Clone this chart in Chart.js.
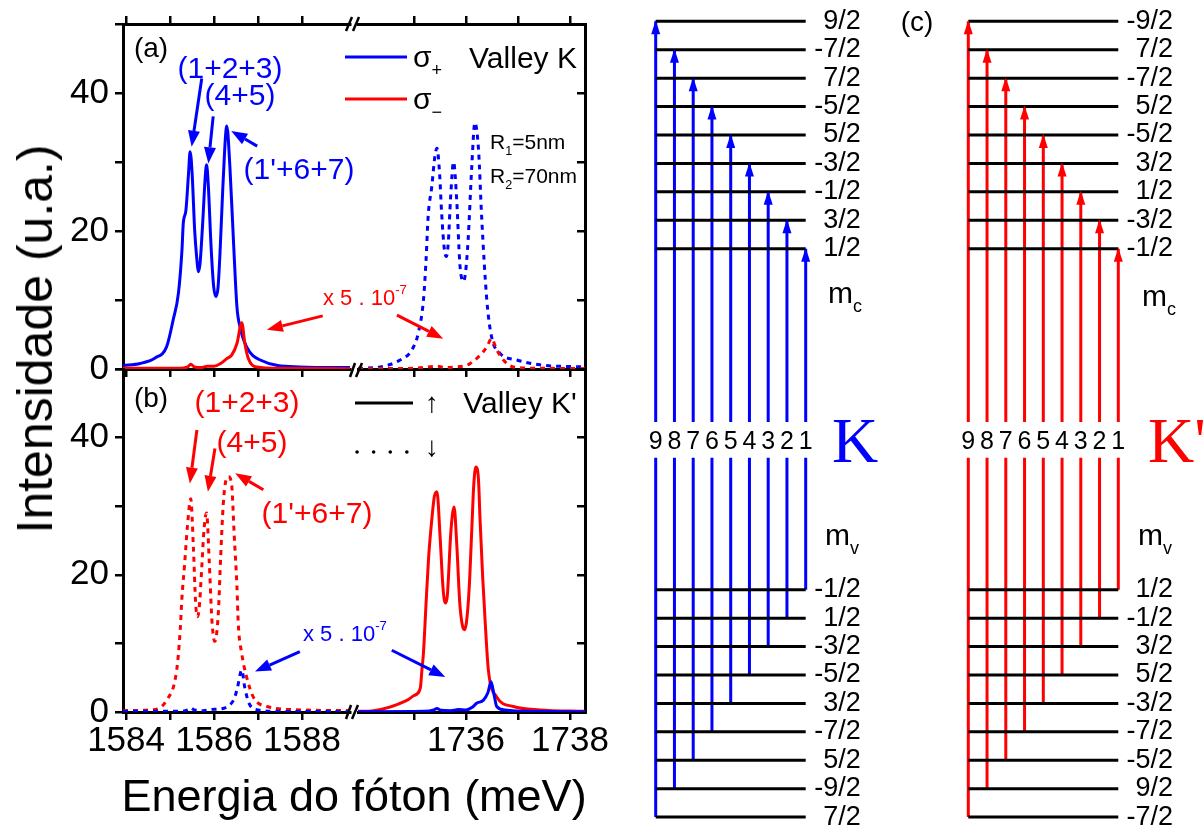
<!DOCTYPE html>
<html>
<head>
<meta charset="utf-8">
<title>Espectros e transições</title>
<script src="https://cdn.jsdelivr.net/npm/chart.js@4.4.1/dist/chart.umd.min.js"></script>
<style>
  html, body { margin: 0; padding: 0; background: #fff; width: 1203px; height: 830px; overflow: hidden; }
  .layer { position: absolute; left: 0; top: 0; width: 1203px; height: 830px; }
  .layer canvas { display: block; }
  .tall { top: -60px; height: 950px; }
  .t { position: absolute; line-height: 1; white-space: nowrap; transform: translate(-50%, -50%);
       font-family: 'Liberation Sans', Arial, Helvetica, sans-serif; color: #000; }
  .l { transform: translate(0, -50%); }
  .sub { font-size: .6em; position: relative; top: .5em; }
  .sup { font-size: .6em; position: relative; top: -.85em; }
  .blue { color: #0000ff; }
  .red { color: #ff0000; }
  .serif { font-family: 'Liberation Serif', 'Times New Roman', serif; }
</style>
</head>
<body>
<div class="layer"><canvas id="aLow" width="1203" height="830"></canvas></div>
<div class="layer"><canvas id="aHigh" width="1203" height="830"></canvas></div>
<div class="layer"><canvas id="bLow" width="1203" height="830"></canvas></div>
<div class="layer"><canvas id="bHigh" width="1203" height="830"></canvas></div>
<div class="layer tall"><canvas id="diagK" width="1203" height="950"></canvas></div>
<div class="layer tall"><canvas id="diagKp" width="1203" height="950"></canvas></div>

<!-- panel (a) -->
<div class="t" style="left:151px;top:48px;font-size:28px">(a)</div>
<div class="t blue" style="left:230px;top:68px;font-size:30px">(1+2+3)</div>
<div class="t blue" style="left:240px;top:95px;font-size:30px">(4+5)</div>
<div class="t blue" style="left:299px;top:169px;font-size:30px">(1'+6+7)</div>
<div class="t l" style="left:413px;top:57px;font-size:30px">σ<span class="sub">+</span></div>
<div class="t l" style="left:413px;top:99px;font-size:30px">σ<span class="sub">−</span></div>
<div class="t" style="left:523px;top:58px;font-size:30px">Valley K</div>
<div class="t l" style="left:490px;top:141px;font-size:21px">R<span class="sub">1</span>=5nm</div>
<div class="t l" style="left:490px;top:175px;font-size:21px">R<span class="sub">2</span>=70nm</div>
<div class="t l red" style="left:323px;top:298px;font-size:22px">x 5 . 10<span class="sup">-7</span></div>

<!-- panel (b) -->
<div class="t" style="left:151px;top:398px;font-size:28px">(b)</div>
<div class="t red" style="left:247px;top:402px;font-size:30px">(1+2+3)</div>
<div class="t red" style="left:252px;top:442px;font-size:30px">(4+5)</div>
<div class="t red" style="left:317px;top:513px;font-size:30px">(1'+6+7)</div>
<div class="t" style="left:432px;top:403px;font-size:28px">↑</div>
<div class="t" style="left:432px;top:447px;font-size:28px">↓</div>
<div class="t" style="left:520px;top:403px;font-size:30px">Valley K'</div>
<div class="t l blue" style="left:303px;top:634px;font-size:22px">x 5 . 10<span class="sup">-7</span></div>

<!-- axis titles -->
<div class="t" style="left:35px;top:339px;font-size:50px;transform:translate(-50%,-50%) rotate(-90deg)">Intensidade (u.a.)</div>
<div class="t" style="left:354px;top:795px;font-size:45px">Energia do fóton (meV)</div>

<!-- panel (c) -->
<div class="t" style="left:917px;top:22px;font-size:28px">(c)</div>
<div class="t blue serif" style="left:855px;top:441px;font-size:64px">K</div>
<div class="t l red serif" style="left:1148px;top:441px;font-size:64px">K'</div>
<div class="t l" style="left:828px;top:293px;font-size:30px">m<span class="sub">c</span></div>
<div class="t l" style="left:825px;top:535px;font-size:30px">m<span class="sub">v</span></div>
<div class="t l" style="left:1142px;top:296px;font-size:30px">m<span class="sub">c</span></div>
<div class="t l" style="left:1138px;top:535px;font-size:30px">m<span class="sub">v</span></div>

<script>
// === Spectra + level scheme (valleys K and K') ===
const FONT = "'Liberation Sans', Arial, Helvetica, sans-serif";
const BLUE = "#0000ff", RED = "#ff0000", BLACK = "#000000";

// --- axis ticks ---
const yTicks = [0, 10, 20, 30, 40, 50];
const yLabelled = [0, 20, 40];
const lowTicks = [1584, 1585, 1586, 1587, 1588];
const highTicks = [1735, 1736, 1737, 1738];
const xLabelled = [1584, 1586, 1588, 1736, 1738];

// --- (a) valley K, spin up, ~1585 meV (solid) ---
const kUpPlusE = [1583.93, 1584.32, 1584.66, 1584.92, 1585.07, 1585.19, 1585.27, 1585.30, 1585.36, 1585.42, 1585.455, 1585.50, 1585.56, 1585.61, 1585.64, 1585.68, 1585.74, 1585.80, 1585.83, 1585.87, 1585.93, 1585.99, 1586.04, 1586.09, 1586.14, 1586.20, 1586.29, 1586.36, 1586.44, 1586.52, 1586.59, 1586.74, 1587.05, 1587.95, 1589.09];
const kUpPlusI = [0.5, 0.8, 1.6, 3.2, 7.1, 11.0, 17.2, 21.1, 23.0, 28.4, 31.5, 28.5, 20.0, 15.8, 14.1, 15.2, 21.0, 27.9, 29.6, 26.5, 18.0, 12.0, 10.5, 11.8, 17.5, 26.4, 35.2, 29.3, 18.7, 9.0, 6.1, 3.2, 1.3, 0.3, 0.2];
const kUpMinusE = [1583.93, 1585.20, 1585.40, 1585.47, 1585.55, 1585.70, 1585.85, 1586.00, 1586.15, 1586.29, 1586.40, 1586.52, 1586.63, 1586.70, 1586.78, 1586.97, 1587.50, 1589.09];
const kUpMinusI = [0.1, 0.1, 0.3, 0.7, 0.3, 0.2, 0.4, 0.4, 0.8, 1.5, 2.0, 3.7, 6.7, 3.7, 1.5, 0.3, 0.1, 0.05];

// --- (a) valley K, spin down, ~1736 meV (dotted) ---
const kDownPlusE = [1733.92, 1734.35, 1734.73, 1734.96, 1735.08, 1735.18, 1735.23, 1735.27, 1735.34, 1735.40, 1735.44, 1735.49, 1735.53, 1735.58, 1735.62, 1735.66, 1735.70, 1735.76, 1735.82, 1735.88, 1735.92, 1735.95, 1735.99, 1736.04, 1736.11, 1736.17, 1736.24, 1736.30, 1736.40, 1736.49, 1736.65, 1736.98, 1737.42, 1738.29];
const kDownPlusI = [0.1, 0.3, 1.3, 2.8, 5.2, 10.0, 15.8, 22.1, 26.4, 30.8, 32.0, 28.4, 22.6, 17.5, 16.3, 18.5, 24.5, 30.0, 24.5, 15.3, 13.0, 12.7, 14.0, 18.7, 29.3, 35.7, 31.8, 22.1, 10.0, 4.7, 2.3, 1.3, 0.6, 0.3];
const kDownMinusE = [1733.92, 1735.00, 1735.45, 1735.60, 1735.80, 1736.00, 1736.08, 1736.27, 1736.40, 1736.49, 1736.59, 1736.72, 1736.91, 1737.50, 1738.29];
const kDownMinusI = [0.05, 0.1, 0.4, 0.2, 0.3, 0.5, 0.8, 2.0, 3.2, 4.4, 2.8, 1.3, 0.3, 0.1, 0.05];

// --- (b) valley K', spin down, ~1585 meV (dotted) ---
const kpDownMinusE = [1583.93, 1584.55, 1584.92, 1585.15, 1585.23, 1585.27, 1585.33, 1585.40, 1585.47, 1585.53, 1585.58, 1585.62, 1585.66, 1585.72, 1585.77, 1585.83, 1585.89, 1585.95, 1585.99, 1586.02, 1586.06, 1586.10, 1586.15, 1586.21, 1586.27, 1586.33, 1586.40, 1586.46, 1586.52, 1586.55, 1586.63, 1586.74, 1586.89, 1587.20, 1588.00, 1589.09];
const kpDownMinusI = [0.2, 0.3, 1.7, 6.1, 11.9, 16.7, 21.5, 27.5, 31.1, 24.0, 16.0, 13.9, 15.0, 21.0, 26.5, 29.0, 22.0, 13.5, 10.8, 10.3, 11.5, 14.8, 22.6, 30.4, 33.8, 34.3, 33.1, 25.5, 18.3, 12.9, 8.5, 5.1, 2.2, 0.8, 0.3, 0.2];
const kpDownPlusE = [1583.93, 1585.20, 1585.40, 1585.47, 1585.55, 1585.75, 1586.00, 1586.20, 1586.30, 1586.44, 1586.52, 1586.63, 1586.70, 1586.80, 1587.00, 1587.50, 1589.09];
const kpDownPlusI = [0.1, 0.1, 0.3, 0.6, 0.3, 0.2, 0.4, 0.5, 0.8, 1.7, 3.2, 6.1, 3.5, 1.2, 0.3, 0.1, 0.05];

// --- (b) valley K', spin up, ~1736 meV (solid) ---
const kpUpMinusE = [1733.92, 1734.22, 1734.86, 1735.00, 1735.12, 1735.15, 1735.18, 1735.23, 1735.28, 1735.34, 1735.39, 1735.44, 1735.50, 1735.55, 1735.58, 1735.61, 1735.64, 1735.71, 1735.77, 1735.82, 1735.88, 1735.93, 1735.97, 1736.01, 1736.06, 1736.11, 1736.15, 1736.19, 1736.24, 1736.27, 1736.32, 1736.37, 1736.43, 1736.59, 1736.91, 1737.42, 1738.29];
const kpUpMinusI = [0.1, 0.2, 1.7, 2.4, 3.5, 6.1, 8.6, 15.8, 22.6, 28.0, 31.4, 32.1, 25.6, 18.8, 16.4, 15.9, 17.0, 26.5, 29.9, 24.6, 15.8, 12.6, 12.0, 13.2, 18.0, 26.5, 33.3, 35.7, 33.8, 28.0, 19.7, 12.9, 6.1, 2.2, 0.8, 0.3, 0.1];
const kpUpPlusE = [1733.92, 1735.20, 1735.38, 1735.44, 1735.52, 1735.70, 1735.85, 1736.00, 1736.12, 1736.21, 1736.33, 1736.42, 1736.48, 1736.54, 1736.59, 1736.75, 1737.20, 1738.29];
const kpUpPlusI = [0.05, 0.1, 0.3, 0.5, 0.25, 0.2, 0.35, 0.3, 0.7, 1.3, 1.7, 2.8, 4.4, 2.5, 0.8, 0.3, 0.1, 0.05];

// --- level scheme: transition n goes from valence level n to conduction level n ---
const transitions = [1, 2, 3, 4, 5, 6, 7, 8, 9];
const condLabelsK  = ["1/2", "3/2", "-1/2", "-3/2", "5/2", "-5/2", "7/2", "-7/2", "9/2"];
const valLabelsK   = ["-1/2", "1/2", "-3/2", "-5/2", "3/2", "-7/2", "5/2", "-9/2", "7/2"];
const condLabelsKp = ["-1/2", "-3/2", "1/2", "3/2", "-5/2", "5/2", "-7/2", "7/2", "-9/2"];
const valLabelsKp  = ["1/2", "-1/2", "3/2", "5/2", "-3/2", "-7/2", "-5/2", "9/2", "-7/2"];

// === helpers ===
const pts = (E, I) => E.map((e, i) => ({ x: e, y: I[i] }));
function curve(E, I, color, dotted) {
  return {
    data: pts(E, I), borderColor: color, borderWidth: 3,
    borderDash: dotted ? [5, 5] : [], pointRadius: 0,
    cubicInterpolationMode: "monotone", fill: false
  };
}

function drawArrow(ctx, x1, y1, x2, y2, color) {
  const ang = Math.atan2(y2 - y1, x2 - x1), len = 16, half = 6;
  const bx = x2 - len * Math.cos(ang), by = y2 - len * Math.sin(ang);
  ctx.strokeStyle = color; ctx.fillStyle = color; ctx.lineWidth = 3; ctx.setLineDash([]);
  ctx.beginPath(); ctx.moveTo(x1, y1); ctx.lineTo(bx, by); ctx.stroke();
  ctx.beginPath(); ctx.moveTo(x2, y2);
  ctx.lineTo(bx + half * Math.sin(ang), by - half * Math.cos(ang));
  ctx.lineTo(bx - half * Math.sin(ang), by + half * Math.cos(ang));
  ctx.closePath(); ctx.fill();
}

// annotation arrows (data coords), legend samples and axis-break marks
const decor = {
  id: "decor",
  afterDraw(chart, args, opts) {
    const ctx = chart.ctx, xs = chart.scales.x, ys = chart.scales.y;
    ctx.save();
    (opts.strokes || []).forEach(s => {
      ctx.strokeStyle = s.color || BLACK; ctx.lineWidth = s.width || 2.5;
      ctx.setLineDash(s.dash || []); ctx.lineCap = s.cap || "butt";
      ctx.beginPath(); ctx.moveTo(s.p[0], s.p[1]); ctx.lineTo(s.p[2], s.p[3]); ctx.stroke();
    });
    (opts.arrows || []).forEach(a => drawArrow(ctx,
      xs.getPixelForValue(a.from[0]), ys.getPixelForValue(a.from[1]),
      xs.getPixelForValue(a.to[0]), ys.getPixelForValue(a.to[1]), a.color));
    ctx.restore();
  }
};

// === spectrum panels (broken energy axis -> two charts per panel) ===
const SEGMENTS = {
  low:  { left: 123, right: 350, min: 1583.93, max: 1589.09, ticks: lowTicks },
  high: { left: 358, right: 585, min: 1733.92, max: 1738.29, ticks: highTicks }
};
const PANELS = { a: { top: 24, bottom: 369 }, b: { top: 369, bottom: 712 } };
const Y_W = 80, YR_W = 40, TOP_H = 10, BOT_A = 30, BOT_B = 80;

function spectrum(id, segName, panelName, datasets, decorOpts) {
  const seg = SEGMENTS[segName], pan = PANELS[panelName];
  const low = segName === "low", showX = panelName === "b";
  const tickFont = { family: FONT, size: 35, lineHeight: 1 };
  const xAxis = (pos, labels) => ({
    type: "linear", position: pos, min: seg.min, max: seg.max,
    afterBuildTicks: s => { s.ticks = seg.ticks.map(v => ({ value: v })); },
    afterFit: s => { s.height = pos === "top" ? TOP_H : (showX ? BOT_B : BOT_A); },
    ticks: {
      display: labels, autoSkip: false, maxRotation: 0, padding: 4, color: BLACK, font: tickFont,
      callback: v => (xLabelled.includes(v) ? String(v) : "")
    },
    grid: { drawOnChartArea: false, drawTicks: true, tickLength: 8, color: BLACK, lineWidth: 2.5 },
    border: { display: true, color: BLACK, width: 3 }
  });
  const scales = {
    x: xAxis("bottom", showX),
    y: {
      type: "linear", position: low ? "left" : "right", min: 0, max: 50,
      afterBuildTicks: s => { s.ticks = yTicks.map(v => ({ value: v })); },
      afterFit: s => { s.width = low ? Y_W : YR_W; },
      ticks: {
        display: low, padding: 6, color: BLACK, font: tickFont,
        callback: v => (yLabelled.includes(v) ? String(v) : "")
      },
      grid: { drawOnChartArea: false, drawTicks: true, tickLength: low ? 8 : -8, color: BLACK, lineWidth: 2.5 },
      border: { display: true, color: BLACK, width: 3 }
    }
  };
  if (panelName === "a") scales.xTop = xAxis("top", false);

  return new Chart(document.getElementById(id), {
    type: "line",
    data: { datasets },
    options: {
      responsive: false, animation: false, events: [],
      layout: {
        padding: {
          left: low ? seg.left - Y_W : seg.left,
          right: low ? 1203 - seg.right : 1203 - seg.right - YR_W,
          top: panelName === "a" ? pan.top - TOP_H : pan.top,
          bottom: 830 - pan.bottom - (showX ? BOT_B : BOT_A)
        }
      },
      scales,
      plugins: { legend: { display: false }, tooltip: { enabled: false }, decor: decorOpts }
    },
    plugins: [decor]
  });
}

spectrum("aLow", "low", "a",
  [curve(kUpMinusE, kUpMinusI, RED, false), curve(kUpPlusE, kUpPlusI, BLUE, false)],
  { arrows: [
      { from: [1585.72, 42.1], to: [1585.49, 32.2], color: BLUE },
      { from: [1585.98, 36.6], to: [1585.87, 29.8], color: BLUE },
      { from: [1586.98, 32.3], to: [1586.39, 34.5], color: BLUE },
      { from: [1588.47, 7.7], to: [1587.20, 5.7], color: RED }
  ] });

spectrum("aHigh", "high", "a",
  [curve(kDownMinusE, kDownMinusI, RED, true), curve(kDownPlusE, kDownPlusI, BLUE, true)],
  { arrows: [{ from: [1734.67, 7.8], to: [1735.56, 4.4], color: RED }],
    strokes: [
      { p: [345, 57, 407, 57], color: BLUE, width: 3 },
      { p: [345, 99, 407, 99], color: RED, width: 3 },
      { p: [346, 31, 352, 17] }, { p: [353, 31, 359, 17] },
      { p: [350, 377, 355, 363] }, { p: [356, 377, 362, 363] }
  ] });

spectrum("bLow", "low", "b",
  [curve(kpDownPlusE, kpDownPlusI, BLUE, true), curve(kpDownMinusE, kpDownMinusI, RED, true)],
  { arrows: [
      { from: [1585.61, 41.1], to: [1585.45, 33.3], color: RED },
      { from: [1586.02, 38.4], to: [1585.86, 32.1], color: RED },
      { from: [1587.12, 32.4], to: [1586.48, 34.8], color: RED },
      { from: [1587.95, 8.8], to: [1586.93, 5.9], color: BLUE }
  ] });

spectrum("bHigh", "high", "b",
  [curve(kpUpPlusE, kpUpPlusI, BLUE, false), curve(kpUpMinusE, kpUpMinusI, RED, false)],
  { arrows: [{ from: [1734.57, 9.0], to: [1735.60, 5.1], color: BLUE }],
    strokes: [
      { p: [355, 403, 413, 403], width: 3 },
      { p: [357, 452, 410, 452], width: 3.5, dash: [0.1, 16.5], cap: "round" },
      { p: [346, 719, 351, 705] }, { p: [352, 719, 358, 705] }
  ] });

// === level diagrams ===
const LVL_Y1 = 248.7, LVL_STEP = 28.42, DIAG_OFF = 60, DIAG_H = 950, COL_STEP = 18.75;
const condY = k => k, valY = k => -(10 + k);
const GAP_HIGH = -5.1, GAP_LOW = -6.36;          // break in the lines around the numbers
const yPix = v => DIAG_OFF + LVL_Y1 + (1 - v) * LVL_STEP;

const heads = {
  id: "heads",
  afterDatasetsDraw(chart) {
    const ctx = chart.ctx;
    chart.data.datasets.forEach((ds, i) => {
      if (!ds.isArrow) return;
      const els = chart.getDatasetMeta(i).data, tip = els[els.length - 1];
      ctx.fillStyle = ds.borderColor;
      ctx.beginPath(); ctx.moveTo(tip.x, tip.y - 1);
      ctx.lineTo(tip.x - 4.5, tip.y + 13); ctx.lineTo(tip.x + 4.5, tip.y + 13);
      ctx.closePath(); ctx.fill();
    });
  }
};

function diagram(id, color, condLabels, valLabels, col1X, labelRight) {
  const font = { family: FONT, size: 27, lineHeight: 1 };
  // labels are right-aligned on the outer edge of the right axis
  const right = col1X + 2;
  const AX_W = labelRight - right;
  const left = col1X - 8 * COL_STEP;
  const xMin = 1 - (right - col1X) / COL_STEP;
  const levelVals = transitions.map(valY).reverse().concat(transitions.map(condY));

  const arrows = transitions.map(n => ({
    data: [{ x: n, y: valY(n) }, { x: n, y: GAP_LOW }, { x: n, y: null }, { x: n, y: GAP_HIGH }, { x: n, y: condY(n) }],
    borderColor: color, borderWidth: 3, pointRadius: 0, spanGaps: false, clip: false, order: 1, isArrow: true
  }));
  const levels = levelVals.map(v => ({
    data: [{ x: 9, y: v }, { x: 1, y: v }],
    borderColor: BLACK, borderWidth: 3, pointRadius: 0, clip: false, order: 0
  }));

  const chart = new Chart(document.getElementById(id), {
    type: "line",
    data: { datasets: arrows.concat(levels) },
    options: {
      responsive: false, animation: false, events: [],
      layout: { padding: { left: left, right: 1203 - right - AX_W, top: yPix(10), bottom: DIAG_H - yPix(-20) } },
      scales: {
        x: { type: "linear", display: false, reverse: true, min: xMin, max: 9 },
        y: {
          type: "linear", position: "right", min: -20, max: 10,
          afterBuildTicks: s => { s.ticks = levelVals.map(v => ({ value: v })); },
          afterFit: s => { s.width = AX_W; },
          ticks: {
            crossAlign: "far", padding: 6, color: BLACK, font, autoSkip: false,
            callback: v => (v > 0 ? condLabels[v - 1] : valLabels[-v - 11])
          },
          grid: { display: false, drawTicks: false },
          border: { display: false }
        }
      },
      plugins: { legend: { display: false }, tooltip: { enabled: false } }
    },
    plugins: [heads]
  });

  // transition numbers between the broken lines
  transitions.forEach(n => {
    const d = document.createElement("div");
    d.className = "t";
    d.style.left = chart.scales.x.getPixelForValue(n) + "px";
    d.style.top = "440px";
    d.style.fontSize = "25px";
    d.textContent = String(n);
    document.body.appendChild(d);
  });
  return chart;
}

diagram("diagK", BLUE, condLabelsK, valLabelsK, 805.7, 860.7);
diagram("diagKp", RED, condLabelsKp, valLabelsKp, 1118.3, 1173);
</script>
</body>
</html>
